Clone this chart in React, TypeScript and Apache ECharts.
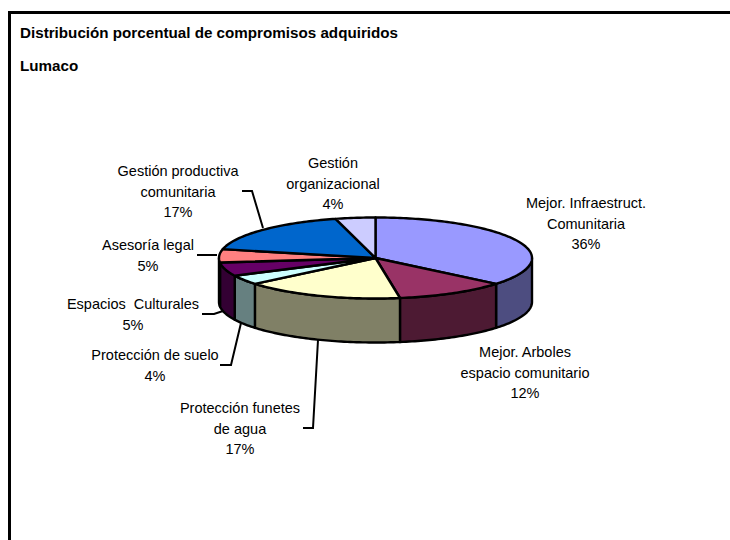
import React, { useEffect, useRef } from "react";
import * as echarts from "echarts";

const titleText = "Distribución porcentual de compromisos adquiridos";
const subtitleText = "Lumaco";
const categories = [
  "Mejor. Infraestruct.\nComunitaria",
  "Mejor. Arboles\nespacio comunitario",
  "Protección funetes\nde agua",
  "Protección de suelo",
  "Espacios  Culturales",
  "Asesoría legal",
  "Gestión productiva\ncomunitaria",
  "Gestión\norganizacional",
];
const percents = [36, 11.5, 16.5, 3.8, 5.4, 5.3, 17.4, 4.1];
const topColors = ["#9999FF", "#993366", "#FFFFCC", "#CCFFFF", "#660066", "#FF8080", "#0066CC", "#CCCCFF"];
const wallColors = ["#4D4D80", "#4D1A33", "#808066", "#668080", "#330033", "#804040", "#003366", "#666680"];

// label centres (x, first line y) and leader lines, in page pixels
const labelAnchors = [
  [586, 203], [525, 352], [240, 408], [155, 355], [133, 304], [148, 245], [178, 171], [333, 163],
];
const leaders: number[][][] = [
  [[242, 191], [252, 191], [263, 228]],
  [[197, 255], [217, 255]],
  [[202, 314], [214, 314], [223, 311]],
  [[220, 365], [231, 365], [241, 323]],
  [[303, 428], [313, 428], [318, 340]],
];

const CX = 375.5, CY = 258, RX = 156.5, RY = 40.5, DEPTH = 44;
const LINE_H = 20.5;
const total = percents.reduce((a, b) => a + b, 0);
const bounds: number[] = [0];
percents.forEach((p) => bounds.push(bounds[bounds.length - 1] + (p / total) * Math.PI * 2));

const pt = (a: number, dy = 0) => [CX + RX * Math.sin(a), CY - RY * Math.cos(a) + dy];
const arcPts = (a0: number, a1: number, dy: number) => {
  const n = Math.max(2, Math.ceil(Math.abs(a1 - a0) / 0.02));
  const out: number[][] = [];
  for (let k = 0; k <= n; k++) out.push(pt(a0 + ((a1 - a0) * k) / n, dy));
  return out;
};

const renderTop = (params: any) => {
  const i = params.dataIndex;
  return {
    type: "polygon",
    shape: { points: [[CX, CY], ...arcPts(bounds[i], bounds[i + 1], 0)] },
    style: { fill: topColors[i], stroke: "#000", lineWidth: 2.4, lineJoin: "round" },
  };
};

const renderWall = (params: any) => {
  const i = params.dataIndex;
  const a0 = Math.max(bounds[i], Math.PI / 2);
  const a1 = Math.min(bounds[i + 1], (Math.PI * 3) / 2);
  if (a1 <= a0) return { type: "group", children: [] };
  return {
    type: "polygon",
    shape: { points: [...arcPts(a0, a1, 0), ...arcPts(a1, a0, DEPTH)] },
    style: { fill: wallColors[i], stroke: "#000", lineWidth: 2.4, lineJoin: "round" },
  };
};

export default function App() {
  const ref = useRef<HTMLDivElement>(null);
  useEffect(() => {
    const chart = echarts.init(ref.current!, null, { renderer: "svg" });
    const data = percents.map((v, i) => ({ name: categories[i], value: [v, i] }));
    const font = "'Liberation Sans', Arial, sans-serif";
    const labelEls = categories.map((c, i) => ({
      type: "text",
      x: labelAnchors[i][0],
      y: labelAnchors[i][1] - LINE_H / 2,
      silent: true,
      style: {
        text: `${c}\n${percents[i].toFixed(0)}%`,
        fontFamily: font,
        fontSize: 14.5,
        lineHeight: LINE_H,
        fill: "#000",
        align: "center",
        verticalAlign: "top",
      },
    }));
    const leaderEls = leaders.map((points) => ({
      type: "polyline",
      silent: true,
      shape: { points },
      style: { stroke: "#000", lineWidth: 2, fill: "none" },
    }));
    chart.setOption({
      animation: false,
      backgroundColor: "#fff",
      title: [
        { text: titleText, left: 20, top: 25, textStyle: { fontFamily: font, fontSize: 15.2, fontWeight: "bold", color: "#000" }, padding: 0 },
        { text: subtitleText, left: 20, top: 58, textStyle: { fontFamily: font, fontSize: 15.2, fontWeight: "bold", color: "#000" }, padding: 0 },
      ],
      graphic: [
        {
          type: "polyline",
          silent: true,
          shape: { points: [[9.5, 540], [9.5, 12.5], [730, 12.5]] },
          style: { stroke: "#000", lineWidth: 3, fill: "none" },
        },
        ...leaderEls,
        ...labelEls,
      ],
      series: [
        { type: "custom", coordinateSystem: "none", silent: true, z: 1, data, renderItem: renderWall },
        { type: "custom", coordinateSystem: "none", silent: true, z: 2, data, renderItem: renderTop },
      ],
    });
    return () => chart.dispose();
  }, []);
  return <div ref={ref} style={{ position: "fixed", left: 0, top: 0, width: 730, height: 540 }} />;
}
